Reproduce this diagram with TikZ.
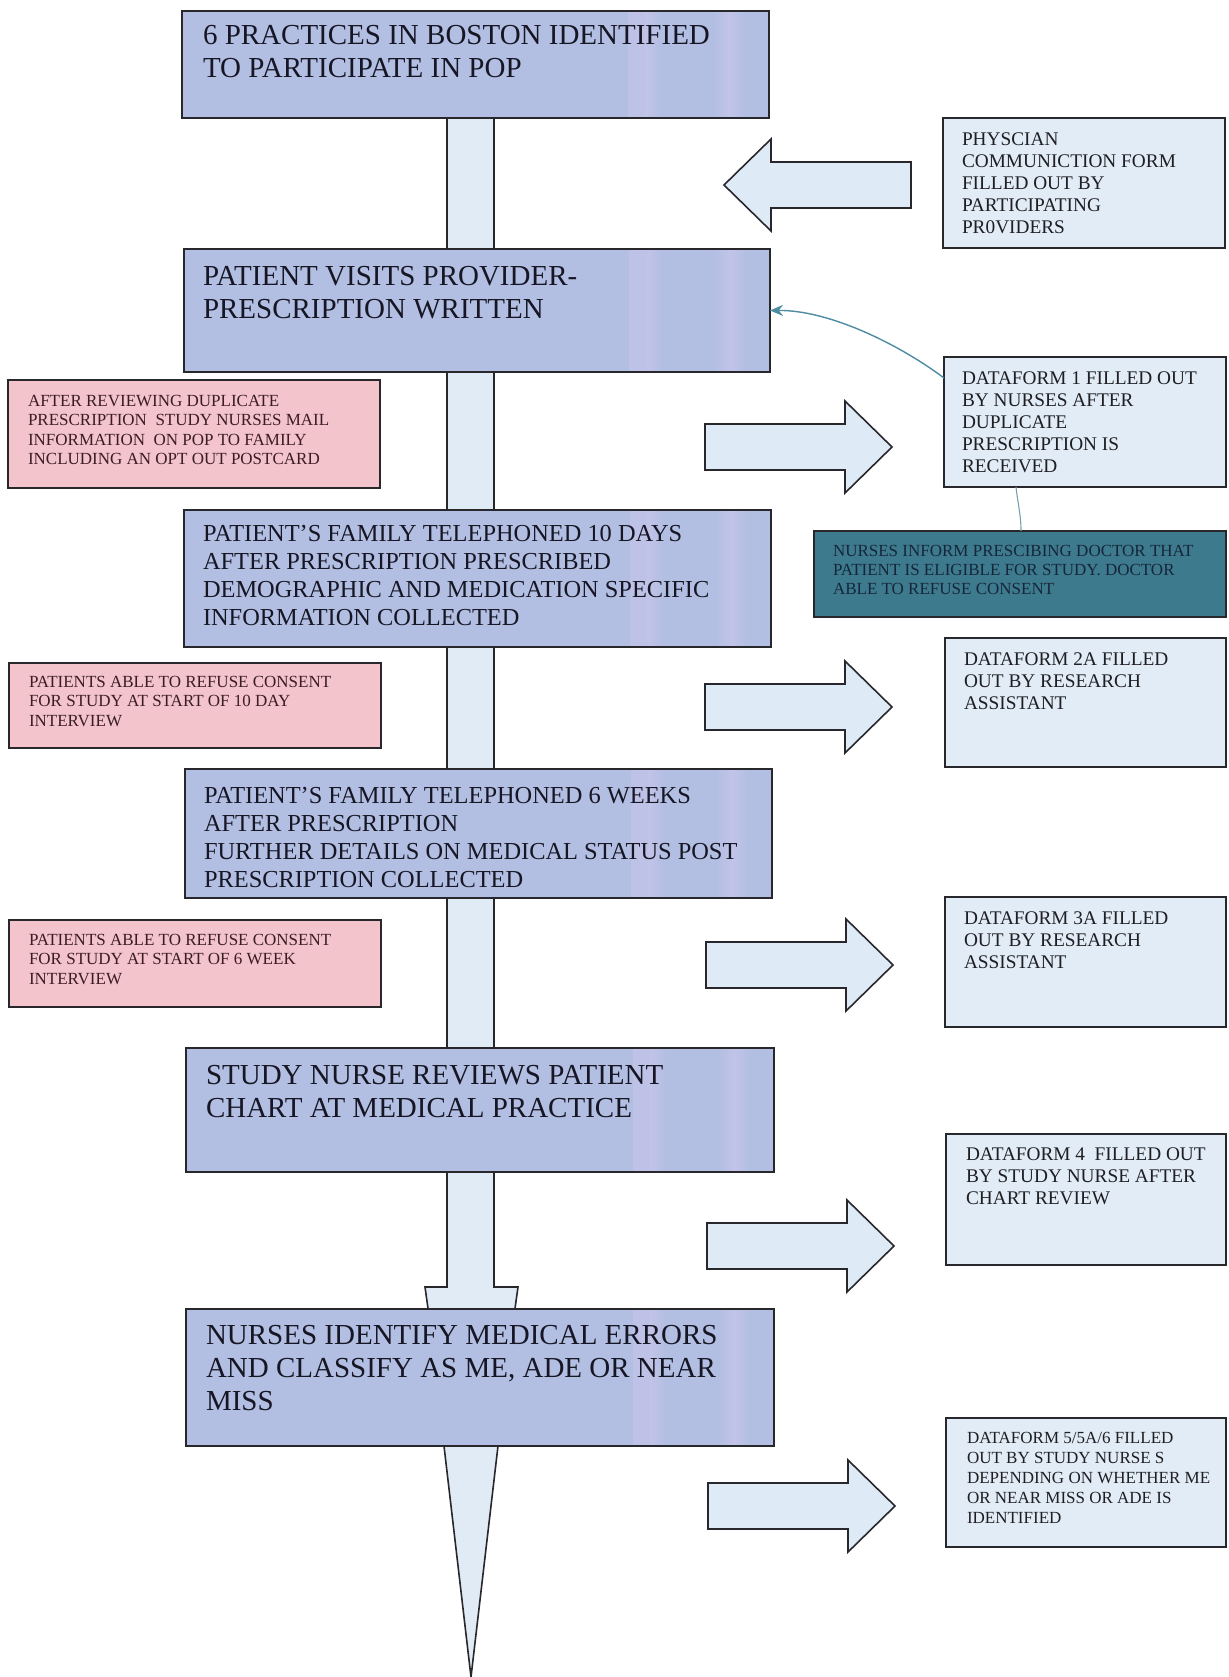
\documentclass[tikz,border=0pt]{standalone}
\usepackage{fontspec}
\setmainfont{Liberation Serif}
\usetikzlibrary{arrows.meta,backgrounds,calc}

\definecolor{mainfill}{RGB}{178,191,226}
\definecolor{mainlight}{RGB}{194,195,232}
\definecolor{pinkfill}{RGB}{243,196,204}
\definecolor{formfill}{RGB}{226,236,246}
\definecolor{arrowfill}{RGB}{222,234,246}
\definecolor{barfill}{RGB}{224,235,245}
\definecolor{tealfill}{RGB}{62,122,142}
\definecolor{curvecol}{RGB}{78,140,162}
\definecolor{thincol}{RGB}{120,160,175}
\definecolor{edge}{RGB}{40,40,44}
\definecolor{maintext}{RGB}{22,22,36}
\definecolor{pinktext}{RGB}{60,28,36}
\definecolor{formtext}{RGB}{30,30,35}
\definecolor{tealtext}{RGB}{22,38,58}

\newcommand\myband[3]{%
  \shade[left color=mainfill,right color=mainlight]
    ($(path picture bounding box.south west)!#1!(path picture bounding box.south east)$) rectangle
    ($(path picture bounding box.north west)!#2!(path picture bounding box.north east)$);
  \shade[left color=mainlight,right color=mainfill]
    ($(path picture bounding box.south west)!#2!(path picture bounding box.south east)$) rectangle
    ($(path picture bounding box.north west)!#3!(path picture bounding box.north east)$);
}

\begin{document}
\begin{tikzpicture}[x=1pt,y=-1pt,
  box/.style={draw=edge,line width=1.6pt,anchor=north west,inner sep=0pt,outer sep=0pt},
  mainbox/.style={box,fill=mainfill,
    path picture={\myband{0.76}{0.79}{0.815}\myband{0.905}{0.932}{0.958}}},
  pinkbox/.style={box,fill=pinkfill},
  formbox/.style={box,fill=formfill},
  tealbox/.style={box,fill=tealfill},
  txt/.style={anchor=north west,inner sep=0pt,outer sep=0pt,align=left},
  bigtxt/.style={txt,text=maintext,font=\fontsize{29}{33}\selectfont},
  midtxt/.style={txt,text=maintext,font=\fontsize{24.4}{28}\selectfont},
  pinktxt/.style={txt,text=pinktext,font=\fontsize{17}{19.4}\selectfont},
  formtxt/.style={txt,text=formtext,font=\fontsize{19.3}{22}\selectfont},
  smallformtxt/.style={txt,text=formtext,font=\fontsize{17}{20}\selectfont},
  teltxt/.style={txt,text=tealtext,font=\fontsize{17}{19}\selectfont},
  bar/.style={draw=edge,fill=barfill,line width=1.6pt,line join=miter},
  arrowshape/.style={draw=edge,fill=arrowfill,line width=1.6pt,line join=miter},
  blockarrow/.pic={\draw[arrowshape] (0,-23) -- (140,-23) -- (140,-46) -- (187,0) -- (140,46) -- (140,23) -- (0,23) -- cycle;},
]
\useasboundingbox (0,0) rectangle (1228,1677);
\begin{scope}[on background layer]
  \fill[white] (0,0) rectangle (1228,1677);
\end{scope}

% main flow boxes
\node[mainbox,minimum width=587pt,minimum height=107pt] (b1) at (182,11) {};
\node[mainbox,minimum width=586pt,minimum height=123pt] (b2) at (184,249) {};
\node[mainbox,minimum width=587pt,minimum height=137pt] (b3) at (184,510) {};
\node[mainbox,minimum width=587pt,minimum height=129pt] (b4) at (185,769) {};
\node[mainbox,minimum width=588pt,minimum height=124pt] (b5) at (186,1048) {};
\node[mainbox,minimum width=588pt,minimum height=137pt] (b6) at (186,1309) {};

\node[bigtxt] (t1) at ($(b1.north west)+(21,14)$) {6 PRACTICES IN BOSTON IDENTIFIED\\TO PARTICIPATE IN POP};
\node[bigtxt] (t2) at ($(b2.north west)+(19,17)$) {PATIENT VISITS PROVIDER-\\PRESCRIPTION WRITTEN};
\node[midtxt] (t3) at ($(b3.north west)+(19,15)$) {PATIENT’S FAMILY TELEPHONED 10 DAYS\\AFTER PRESCRIPTION PRESCRIBED\\DEMOGRAPHIC AND MEDICATION SPECIFIC\\INFORMATION COLLECTED};
\node[midtxt] (t4) at ($(b4.north west)+(19,18)$) {PATIENT’S FAMILY TELEPHONED 6 WEEKS\\AFTER PRESCRIPTION\\FURTHER DETAILS ON MEDICAL STATUS POST\\PRESCRIPTION COLLECTED};
\node[bigtxt] (t5) at ($(b5.north west)+(20,17)$) {STUDY NURSE REVIEWS PATIENT\\CHART AT MEDICAL PRACTICE};
\node[bigtxt] (t6) at ($(b6.north west)+(20,16)$) {NURSES IDENTIFY MEDICAL ERRORS\\AND CLASSIFY AS ME, ADE OR NEAR\\MISS};

% pink boxes (left)
\node[pinkbox,minimum width=372pt,minimum height=108pt] (p1) at (8,380) {};
\node[pinkbox,minimum width=372pt,minimum height=85pt] (p2) at (9,663) {};
\node[pinkbox,minimum width=372pt,minimum height=87pt] (p3) at (9,920) {};
\node[pinktxt] (pt1) at ($(p1.north west)+(20,15)$) {AFTER REVIEWING DUPLICATE\\PRESCRIPTION\ \ STUDY NURSES MAIL\\INFORMATION\ \ ON POP TO FAMILY\\INCLUDING AN OPT OUT POSTCARD};
\node[pinktxt] (pt2) at ($(p2.north west)+(20,13)$) {PATIENTS ABLE TO REFUSE CONSENT\\FOR STUDY AT START OF 10 DAY\\INTERVIEW};
\node[pinktxt] (pt3) at ($(p3.north west)+(20,14)$) {PATIENTS ABLE TO REFUSE CONSENT\\FOR STUDY AT START OF 6 WEEK\\INTERVIEW};

% form boxes (right)
\node[formbox,minimum width=282pt,minimum height=130pt] (r1) at (943,118) {};
\node[formbox,minimum width=282pt,minimum height=130pt] (r2) at (944,357) {};
\node[tealbox,minimum width=412pt,minimum height=86pt] (tb) at (814,531) {};
\node[formbox,minimum width=281pt,minimum height=129pt] (r3) at (945,638) {};
\node[formbox,minimum width=281pt,minimum height=130pt] (r4) at (945,897) {};
\node[formbox,minimum width=280pt,minimum height=131pt] (r5) at (946,1134) {};
\node[formbox,minimum width=280pt,minimum height=129pt] (r6) at (946,1418) {};

\node[formtxt] (rt1) at ($(r1.north west)+(19,15)$) {PHYSCIAN\\COMMUNICTION FORM\\FILLED OUT BY\\PARTICIPATING\\PR0VIDERS};
\node[formtxt] (rt2) at ($(r2.north west)+(18,15)$) {DATAFORM 1 FILLED OUT\\BY NURSES AFTER\\DUPLICATE\\PRESCRIPTION IS\\RECEIVED};
\node[teltxt] (tt) at ($(tb.north west)+(19,14)$) {NURSES INFORM PRESCIBING DOCTOR THAT\\PATIENT IS ELIGIBLE FOR STUDY. DOCTOR\\ABLE TO REFUSE CONSENT};
\node[formtxt] (rt3) at ($(r3.north west)+(19,15)$) {DATAFORM 2A FILLED\\OUT BY RESEARCH\\ASSISTANT};
\node[formtxt] (rt4) at ($(r4.north west)+(19,15)$) {DATAFORM 3A FILLED\\OUT BY RESEARCH\\ASSISTANT};
\node[formtxt] (rt5) at ($(r5.north west)+(20,14)$) {DATAFORM 4\ \ FILLED OUT\\BY STUDY NURSE AFTER\\CHART REVIEW};
\node[smallformtxt] (rt6) at ($(r6.north west)+(21,14)$) {DATAFORM 5/5A/6 FILLED\\OUT BY STUDY NURSE S\\DEPENDING ON WHETHER ME\\OR NEAR MISS OR ADE IS\\IDENTIFIED};

% vertical flow connectors
\coordinate (barL) at (447,0);
\coordinate (barR) at (494,0);
\coordinate (flT) at (0,1287);
\coordinate (flTL) at (425,1287);
\coordinate (flTR) at (518,1287);
\coordinate (flBL) at (428.5,1312);
\coordinate (flBR) at (514.5,1312);
\coordinate (triL) at (444,0);
\coordinate (triR) at (498,0);
\coordinate (tipEnd) at (471,1677);
\begin{scope}[on background layer]
  \draw[bar] (b1.south -| barL) rectangle (b2.north -| barR);
  \draw[bar] (b2.south -| barL) rectangle (b3.north -| barR);
  \draw[bar] (b3.south -| barL) rectangle (b4.north -| barR);
  \draw[bar] (b4.south -| barL) rectangle (b5.north -| barR);
  \draw[bar] (b5.south -| barL) -- (barL |- flT) -- (flTL) -- (flBL) -- (flBR) -- (flTR) -- (barR |- flT) -- (b5.south -| barR) -- cycle;
  \draw[bar] (b6.south -| triL) -- (tipEnd) -- (b6.south -| triR) -- cycle;
\end{scope}

% block arrows
\pic[xscale=-1] at (911,185) {blockarrow};
\pic at (705,447) {blockarrow};
\pic at (705,707) {blockarrow};
\pic at (706,965) {blockarrow};
\pic at (707,1246) {blockarrow};
\pic at (708,1506) {blockarrow};

% curved connectors
\draw[curvecol,line width=1.4pt,-{Stealth[length=13pt,width=11pt]}]
  ([yshift=-21pt]r2.north west) .. controls (900,345) and (830,310) .. (b2.east);
\draw[thincol,line width=1.1pt]
  ([xshift=72pt]r2.south west) .. controls (1018,505) and (1021,515) .. ([xshift=207pt]tb.north west);
\end{tikzpicture}
\end{document}
